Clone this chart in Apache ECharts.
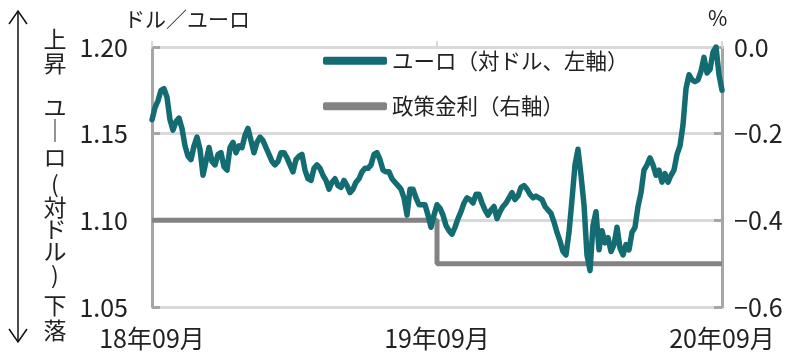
<!DOCTYPE html>
<html><head><meta charset="utf-8">
<script src="https://cdn.jsdelivr.net/npm/echarts@6/dist/echarts.min.js"></script>
<style>html,body{margin:0;padding:0;background:#fff}#c{width:807px;height:364px}</style>
</head><body><div id="c"></div>
<script>
// x positions are evenly spaced observations, Sep 2018 (index 0) to Sep 2020 (index 190)
const xTickPos = [0, 95, 190];
const xTickLabels = ['18年09月', '19年09月', '20年09月'];
const leftTicks = [1.05, 1.10, 1.15, 1.20];
const rightTicks = [-0.6, -0.4, -0.2, 0.0];
const euroName = 'ユーロ（対ドル、左軸）';
const rateName = '政策金利（右軸）';
const euroUsd = [
1.158,1.165,1.169,1.175,1.176,1.171,1.158,1.152,1.157,1.159,
1.153,1.143,1.137,1.135,1.143,1.148,1.141,1.126,1.134,1.142,
1.134,1.132,1.138,1.139,1.131,1.129,1.142,1.145,1.139,1.143,
1.142,1.149,1.153,1.146,1.139,1.145,1.148,1.146,1.142,1.138,
1.134,1.132,1.134,1.139,1.139,1.136,1.132,1.128,1.135,1.137,
1.138,1.129,1.124,1.123,1.130,1.132,1.130,1.126,1.123,1.118,
1.122,1.124,1.120,1.119,1.123,1.120,1.116,1.118,1.122,1.124,
1.128,1.130,1.130,1.132,1.138,1.139,1.135,1.129,1.128,1.128,
1.124,1.122,1.120,1.118,1.113,1.103,1.118,1.118,1.113,1.109,
1.109,1.109,1.103,1.096,1.103,1.109,1.107,1.103,1.097,1.094,
1.092,1.096,1.101,1.105,1.110,1.113,1.112,1.110,1.115,1.115,
1.110,1.106,1.103,1.106,1.108,1.101,1.105,1.108,1.110,1.113,
1.116,1.112,1.114,1.119,1.120,1.118,1.115,1.113,1.114,1.113,
1.112,1.108,1.106,1.104,1.099,1.093,1.088,1.082,1.080,1.093,
1.112,1.132,1.141,1.126,1.109,1.080,1.071,1.097,1.105,1.083,
1.094,1.087,1.090,1.082,1.086,1.096,1.084,1.080,1.086,1.083,
1.093,1.096,1.108,1.116,1.129,1.132,1.136,1.132,1.126,1.129,
1.122,1.127,1.122,1.126,1.129,1.138,1.143,1.155,1.176,1.184,
1.181,1.180,1.181,1.186,1.194,1.185,1.187,1.197,1.200,1.184,
1.175
];
const rateIdx = [0, 95, 190];
const rateVals = [-0.4, -0.5, -0.5];

const FONT = '"Noto Sans CJK JP", sans-serif';
const TXT = '#222';
const chart = echarts.init(document.getElementById('c'));
const vertChars = ['上','昇','ユ','｜','ロ','(','対','ド','ル',')','下','落'];
const vertY = [39, 63, 107, 130, 157, 184, 207, 229, 251, 275, 305, 330];
chart.setOption({
  animation: false,
  textStyle: {fontFamily: FONT},
  grid: {left: 152, right: 85, top: 47, bottom: 57},
  legend: {
    left: 318, top: 45, orient: 'vertical', itemWidth: 64, itemHeight: 8, itemGap: 24,
    textStyle: {fontSize: 21.5, color: TXT, fontFamily: FONT},
    data: [{name: euroName, icon: 'roundRect'}, {name: rateName, icon: 'roundRect'}]
  },
  xAxis: {
    type: 'value', min: 0, max: 190, interval: 95,
    axisLine: {show: true, lineStyle: {color: '#d9d9d9', width: 3}},
    axisTick: {show: true, inside: true, length: 6, lineStyle: {color: '#d9d9d9', width: 2}},
    splitLine: {show: false},
    axisLabel: {
      fontSize: 25, color: TXT, margin: 19, fontFamily: FONT,
      formatter: v => { const k = xTickPos.indexOf(v); return k >= 0 ? xTickLabels[k] : ''; }
    }
  },
  yAxis: [{
    type: 'value', min: 1.05, max: 1.20, interval: 0.05, position: 'left',
    axisLine: {show: true, lineStyle: {color: '#a6a6a6', width: 3}},
    axisTick: {show: true, inside: true, length: 8, lineStyle: {color: '#a6a6a6', width: 3}},
    splitLine: {show: true, lineStyle: {color: '#d9d9d9', width: 3}},
    axisLabel: {fontSize: 25, color: TXT, margin: 24, fontFamily: FONT, formatter: v => v.toFixed(2)}
  }, {
    type: 'value', min: -0.6, max: 0.0, interval: 0.2, position: 'right',
    axisLine: {show: true, lineStyle: {color: '#a6a6a6', width: 3}},
    axisTick: {show: true, inside: true, length: 8, lineStyle: {color: '#a6a6a6', width: 3}},
    splitLine: {show: false},
    axisLabel: {fontSize: 25, color: TXT, margin: 12, fontFamily: FONT,
      formatter: v => (v < -0.001 ? '−' + Math.abs(v).toFixed(1) : '0.0')}
  }],
  series: [{
    name: euroName, type: 'line', yAxisIndex: 0, z: 5, showSymbol: false, symbol: 'none',
    lineStyle: {color: '#146c73', width: 5.5, join: 'round', cap: 'round'},
    itemStyle: {color: '#146c73'},
    data: euroUsd.map((v, i) => [i, v])
  }, {
    name: rateName, type: 'line', yAxisIndex: 1, z: 3, step: 'end', showSymbol: false, symbol: 'none',
    lineStyle: {color: '#838383', width: 5},
    itemStyle: {color: '#838383'},
    data: rateIdx.map((x, i) => [x, rateVals[i]])
  }],
  graphic: [
    {type: 'text', left: 124, top: 9, style: {text: 'ドル／ユーロ', fontSize: 21, fill: TXT, fontFamily: FONT}},
    {type: 'text', left: 708, top: 8, style: {text: '%', fontSize: 21, fill: TXT, fontFamily: FONT}},
    {type: 'group', children: vertChars.map((ch, i) => ({
      type: 'text', x: 55, y: vertY[i],
      style: {text: ch, fontSize: 23, fill: TXT, fontFamily: FONT, align: 'center', verticalAlign: 'middle'}
    }))},
    {type: 'line', shape: {x1: 18, y1: 11, x2: 18, y2: 342}, style: {stroke: '#111', lineWidth: 1.5}},
    {type: 'polyline', shape: {points: [[9, 24], [18, 11], [27, 24]]}, style: {stroke: '#111', lineWidth: 1.5, fill: null}},
    {type: 'polyline', shape: {points: [[9, 329], [18, 342], [27, 329]]}, style: {stroke: '#111', lineWidth: 1.5, fill: null}}
  ]
});
</script></body></html>
